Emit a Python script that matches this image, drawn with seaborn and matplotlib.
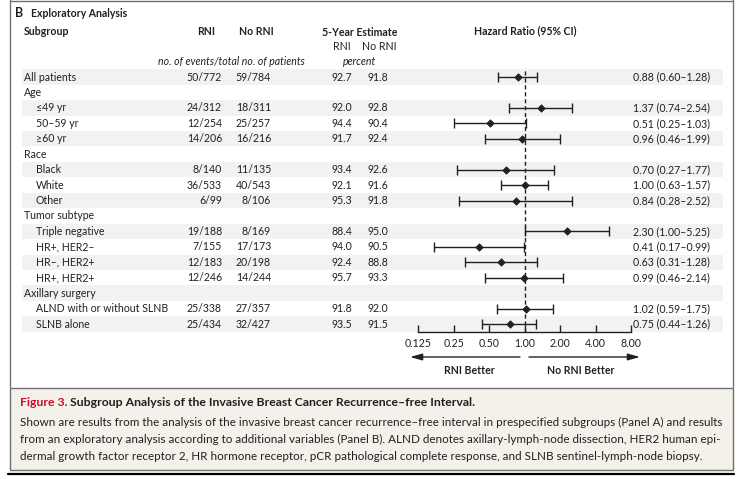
import numpy as np
import pandas as pd
import matplotlib
matplotlib.use('Agg')
import matplotlib.pyplot as plt
from matplotlib.ticker import NullLocator
import seaborn as sns

## data
labels = ['All patients', 'Age', '≤49 yr', '50–59 yr', '≥60 yr', 'Race', 'Black', 'White', 'Other',
          'Tumor subtype', 'Triple negative', 'HR+, HER2–', 'HR–, HER2+', 'HR+, HER2+',
          'Axillary surgery', 'ALND with or without SLNB', 'SLNB alone']
indent = [0, 0, 1, 1, 1, 0, 1, 1, 1, 0, 1, 1, 1, 1, 0, 1, 1]
rni_events = ['50/772', '', '24/312', '12/254', '14/206', '', '8/140', '36/533', '6/99',
              '', '19/188', '7/155', '12/183', '12/246', '', '25/338', '25/434']
nornirni_events = ['59/784', '', '18/311', '25/257', '16/216', '', '11/135', '40/543', '8/106',
                   '', '8/169', '17/173', '20/198', '14/244', '', '27/357', '32/427']
est_rni = [92.7, None, 92.0, 94.4, 91.7, None, 93.4, 92.1, 95.3,
           None, 88.4, 94.0, 92.4, 95.7, None, 91.8, 93.5]
est_nornirni = [91.8, None, 92.8, 90.4, 92.4, None, 92.6, 91.6, 91.8,
                None, 95.0, 90.5, 88.8, 93.3, None, 92.0, 91.5]
hr = [0.88, None, 1.37, 0.51, 0.96, None, 0.70, 1.00, 0.84,
      None, 2.30, 0.41, 0.63, 0.99, None, 1.02, 0.75]
hr_lo = [0.60, None, 0.74, 0.25, 0.46, None, 0.27, 0.63, 0.28,
         None, 1.00, 0.17, 0.31, 0.46, None, 0.59, 0.44]
hr_hi = [1.28, None, 2.54, 1.03, 1.99, None, 1.77, 1.57, 2.52,
         None, 5.25, 0.99, 1.28, 2.14, None, 1.75, 1.26]
ticks = [0.125, 0.25, 0.5, 1, 2, 4, 8]
tick_labels = ['0.125', '0.25', '0.50', '1.00', '2.00', '4.00', '8.00']

caption_title = 'Subgroup Analysis of the Invasive Breast Cancer Recurrence–free Interval.'
caption_lines = [
    'Shown are results from the analysis of the invasive breast cancer recurrence–free interval in prespecified subgroups (Panel A) and results',
    'from an exploratory analysis according to additional variables (Panel B). ALND denotes axillary-lymph-node dissection, HER2 human epi-',
    'dermal growth factor receptor 2, HR hormone receptor, pCR pathological complete response, and SLNB sentinel-lymph-node biopsy.',
]

df = pd.DataFrame({'label': labels, 'indent': indent, 'rni': rni_events, 'nornirni': nornirni_events,
                   'est_rni': est_rni, 'est_nornirni': est_nornirni,
                   'hr': hr, 'lo': hr_lo, 'hi': hr_hi})
# row centres in pixels (figure is laid out in pixel units)
df['y'] = 77 + 15.44 * np.arange(len(df))

sns.set_theme(style='white')
plt.rcParams['font.family'] = ['Lato', 'DejaVu Sans']
ink = '#231f20'
fs = 7.6

W, H = 742, 479
fig = plt.figure(figsize=(W / 100, H / 100), dpi=100)
bg = fig.add_axes([0, 0, 1, 1])
bg.set_xlim(0, W)
bg.set_ylim(H, 0)
bg.axis('off')

# stripes
for _, r in df.iloc[::2].iterrows():
    bg.add_patch(plt.Rectangle((22, r['y'] - 7.7), 701, 15.4, color='#f2f2f2', lw=0, zorder=0))

# panel frame and caption box
frame = '#707070'
bg.plot([9.5, 9.5], [0, 387], color=frame, lw=1)
bg.plot([732.5, 732.5], [0, 387], color=frame, lw=1)
bg.plot([9.5, 732.5], [0.5, 0.5], color=frame, lw=1)
bg.add_patch(plt.Rectangle((9.5, 387.5), 723, 82, facecolor='#f4f0ea', edgecolor=frame, lw=1))
bg.plot([8, 734], [473.5, 473.5], color='black', lw=1.6)

# headers
bg.text(15, 13, 'B', fontsize=9, fontweight='bold', color=ink, va='center')
bg.text(31, 13, 'Exploratory Analysis', fontsize=fs, fontweight='bold', color=ink, va='center')
hdr = dict(fontsize=fs, fontweight='bold', color=ink, va='center')
bg.text(24, 31, 'Subgroup', ha='left', **hdr)
bg.text(206, 31, 'RNI', ha='center', **hdr)
bg.text(256, 31, 'No RNI', ha='center', **hdr)
bg.text(360, 32, '5-Year Estimate', ha='center', **hdr)
bg.text(525, 31, 'Hazard Ratio (95% CI)', ha='center', **hdr)
bg.text(342, 46, 'RNI', ha='center', va='center', fontsize=fs, color=ink)
bg.text(379, 46, 'No RNI', ha='center', va='center', fontsize=fs, color=ink)
bg.text(231, 61, 'no. of events/total no. of patients', ha='center', va='center',
        fontsize=fs, style='italic', color=ink)
bg.text(360, 61, 'percent', ha='center', va='center', fontsize=fs, style='italic', color=ink)

# table body
for _, r in df.iterrows():
    y = r['y']
    bg.text(24 + 12 * r['indent'], y, r['label'], va='center', fontsize=fs, color=ink)
    if pd.isna(r['hr']):
        continue
    bg.text(222, y, r['rni'], ha='right', va='center', fontsize=fs, color=ink)
    bg.text(271, y, r['nornirni'], ha='right', va='center', fontsize=fs, color=ink)
    bg.text(352, y, f"{r['est_rni']:.1f}", ha='right', va='center', fontsize=fs, color=ink)
    bg.text(388, y, f"{r['est_nornirni']:.1f}", ha='right', va='center', fontsize=fs, color=ink)
    bg.text(633, y, f"{r['hr']:.2f} ({r['lo']:.2f}–{r['hi']:.2f})", ha='left', va='center',
            fontsize=fs, color=ink)

# forest plot
fa = fig.add_axes([418 / W, 1 - 332 / H, 213 / W, (332 - 68) / H])
fa.patch.set_alpha(0)
d = df.dropna(subset=['hr'])
fa.set_xscale('log', base=2)
fa.axvline(1, color=ink, lw=1, ls=(0, (3, 2)), zorder=1)
fa.errorbar(d['hr'], d['y'], xerr=[d['hr'] - d['lo'], d['hi'] - d['hr']], fmt='none',
            ecolor=ink, elinewidth=1, capsize=3.5, capthick=1, zorder=2)
sns.scatterplot(data=d, x='hr', y='y', marker='D', color=ink, s=14, edgecolor=ink, linewidth=0.6,
                ax=fa, zorder=3, legend=False)
fa.set_xlim(0.125, 8)
fa.set_ylim(332, 68)
fa.set_xticks(ticks)
fa.set_xticklabels(tick_labels)
fa.xaxis.set_minor_locator(NullLocator())
fa.set_yticks([])
fa.set_xlabel('')
fa.set_ylabel('')
for s in ['left', 'right', 'top']:
    fa.spines[s].set_visible(False)
fa.spines['bottom'].set_color(ink)
fa.spines['bottom'].set_linewidth(1)
fa.tick_params(axis='x', direction='in', length=5, width=1, color=ink, labelsize=fs,
               labelcolor=ink, pad=4, bottom=True)

# direction arrows
arr = dict(arrowstyle='-|>,head_length=0.9,head_width=0.25', color=ink, lw=1,
           mutation_scale=8, shrinkA=0, shrinkB=0)
bg.annotate('', xy=(410, 357), xytext=(520, 357), arrowprops=arr)
bg.annotate('', xy=(640, 357), xytext=(529, 357), arrowprops=arr)
bg.text(469, 370, 'RNI Better', ha='center', va='center', fontsize=fs, fontweight='bold', color=ink)
bg.text(581, 370, 'No RNI Better', ha='center', va='center', fontsize=fs, fontweight='bold', color=ink)

# caption
cap_fs = 8.4
t1 = bg.text(20, 403, 'Figure 3.', fontsize=8.8, fontweight='bold', color='#c8102e', va='center')
fig.canvas.draw()
x_end = t1.get_window_extent().x1
bg.text(x_end + 3, 403, caption_title, fontsize=8.8, fontweight='bold', color=ink, va='center')
for i, line in enumerate(caption_lines):
    bg.text(20, 422 + 17 * i, line, fontsize=cap_fs, color=ink, va='center')

fig.savefig('out.png', dpi=100)
